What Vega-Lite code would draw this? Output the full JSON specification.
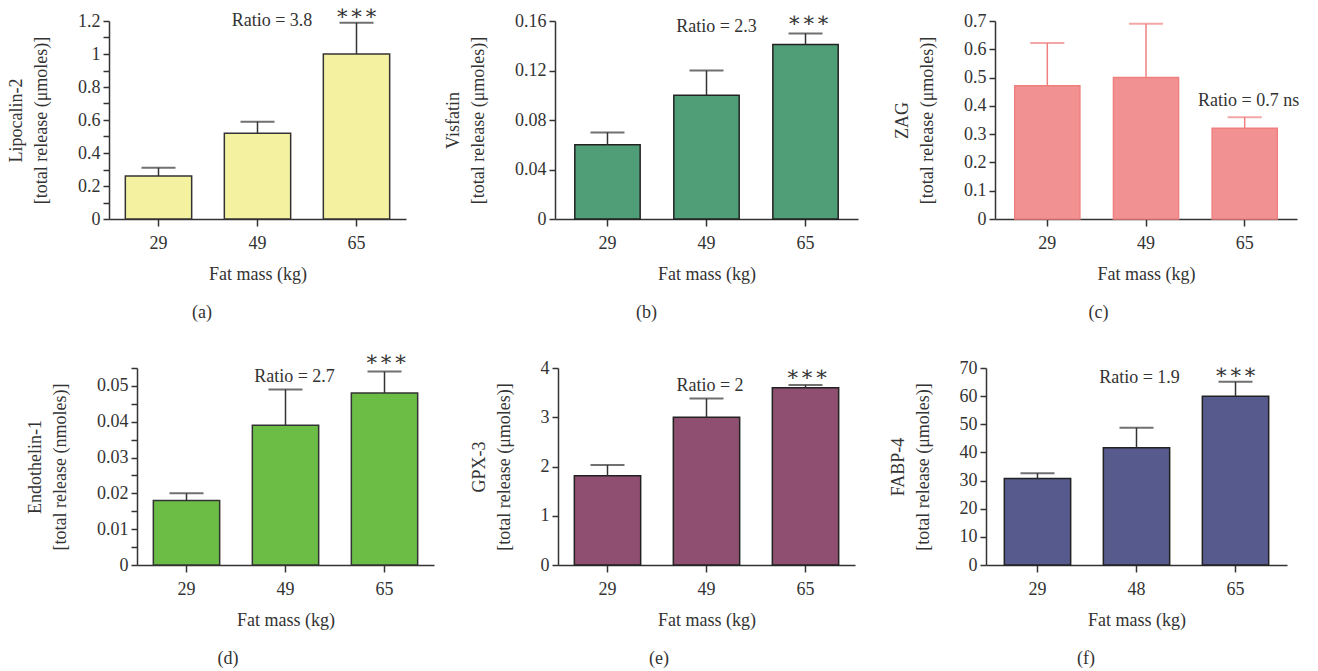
{
  "$schema": "https://vega.github.io/schema/vega-lite/v6.json",
  "background": "white",
  "padding": {"left": 7, "top": 2, "right": 5, "bottom": 5},
  "datasets": {
    "bars": [
      {"panel": "a", "kg": "29", "value": 0.26, "upper": 0.31},
      {"panel": "a", "kg": "49", "value": 0.52, "upper": 0.59},
      {"panel": "a", "kg": "65", "value": 1.0, "upper": 1.19},
      {"panel": "b", "kg": "29", "value": 0.06, "upper": 0.07},
      {"panel": "b", "kg": "49", "value": 0.10, "upper": 0.12},
      {"panel": "b", "kg": "65", "value": 0.141, "upper": 0.15},
      {"panel": "c", "kg": "29", "value": 0.471, "upper": 0.622},
      {"panel": "c", "kg": "49", "value": 0.50, "upper": 0.69},
      {"panel": "c", "kg": "65", "value": 0.321, "upper": 0.36},
      {"panel": "d", "kg": "29", "value": 0.018, "upper": 0.020},
      {"panel": "d", "kg": "49", "value": 0.039, "upper": 0.049},
      {"panel": "d", "kg": "65", "value": 0.048, "upper": 0.054},
      {"panel": "e", "kg": "29", "value": 1.81, "upper": 2.03},
      {"panel": "e", "kg": "49", "value": 3.0, "upper": 3.38},
      {"panel": "e", "kg": "65", "value": 3.60, "upper": 3.655},
      {"panel": "f", "kg": "29", "value": 30.7, "upper": 32.6},
      {"panel": "f", "kg": "48", "value": 41.7, "upper": 48.8},
      {"panel": "f", "kg": "65", "value": 60.0, "upper": 65.1}
    ],
    "notes": [
      {"panel": "a", "kind": "ratio", "kg": "49", "y": 1.201, "label": "Ratio = 3.8"},
      {"panel": "a", "kind": "stars", "kg": "65", "y": 1.245, "label": "∗∗∗"},
      {"panel": "b", "kind": "ratio", "kg": "49", "y": 0.155, "label": "Ratio = 2.3"},
      {"panel": "b", "kind": "stars", "kg": "65", "y": 0.1602, "label": "∗∗∗"},
      {"panel": "c", "kind": "ratio", "kg": "65", "y": 0.4155, "label": "Ratio = 0.7 ns"},
      {"panel": "d", "kind": "ratio", "kg": "49", "y": 0.0526, "label": "Ratio = 2.7"},
      {"panel": "d", "kind": "stars", "kg": "65", "y": 0.0571, "label": "∗∗∗"},
      {"panel": "e", "kind": "ratio", "kg": "49", "y": 3.635, "label": "Ratio = 2"},
      {"panel": "e", "kind": "stars", "kg": "65", "y": 3.85, "label": "∗∗∗"},
      {"panel": "f", "kind": "ratio", "kg": "48", "y": 66.3, "label": "Ratio = 1.9"},
      {"panel": "f", "kind": "stars", "kg": "65", "y": 68.35, "label": "∗∗∗"}
    ]
  },
  "columns": 3,
  "spacing": {"row": 149, "column": 121},
  "bounds": "flush",
  "align": "each",
  "concat": [
    {
      "width": 325, "height": 198,
      "title": {"text": "(a)", "orient": "bottom", "frame": "group", "anchor": "middle", "dx": -69.5, "offset": 21},
      "layer": [
        {"data": {"name": "bars"}, "transform": [{"filter": "datum.panel === 'a'"}],
         "mark": {"type": "bar", "fill": "#f4f2a0", "stroke": "#333333", "strokeWidth": 1.5},
         "encoding": {
           "x": {"field": "kg", "type": "nominal", "scale": {"domain": ["29", "49", "65"], "range": [0, 297], "paddingInner": 0.33, "paddingOuter": 0.165}, "axis": {"title": "Fat mass (kg)"}},
           "y": {"field": "value", "type": "quantitative", "scale": {"domain": [0, 1.2], "nice": false}, "axis": {"title": ["Lipocalin-2", "[total release (μmoles)]"], "values": [0, 0.1, 0.2, 0.3, 0.4, 0.5, 0.6, 0.7, 0.8, 0.9, 1.0, 1.1, 1.2], "tickCount": 50, "labelOverlap": false, "labelExpr": "round(datum.value*10)%2==0 ? format(datum.value,'~g') : ''", "offset": 0}}
         }},
        {"data": {"name": "bars"}, "transform": [{"filter": "datum.panel === 'a'"}],
         "mark": {"type": "rule", "color": "#333333", "strokeWidth": 1.5},
         "encoding": {"x": {"field": "kg", "type": "nominal"}, "y": {"field": "value", "type": "quantitative"}, "y2": {"field": "upper"}}},
        {"data": {"name": "bars"}, "transform": [{"filter": "datum.panel === 'a'"}],
         "mark": {"type": "tick", "orient": "horizontal", "color": "#333333", "thickness": 2, "size": 34},
         "encoding": {"x": {"field": "kg", "type": "nominal"}, "y": {"field": "upper", "type": "quantitative"}}},
        {"data": {"name": "notes"}, "transform": [{"filter": "datum.panel === 'a' && datum.kind === 'ratio'"}],
         "mark": {"type": "text", "dx": 14.5, "align": "center", "baseline": "middle", "font": "Liberation Serif", "fontSize": 18, "color": "#333333"},
         "encoding": {"x": {"field": "kg", "type": "nominal"}, "y": {"field": "y", "type": "quantitative"}, "text": {"field": "label"}}},
        {"data": {"name": "notes"}, "transform": [{"filter": "datum.panel === 'a' && datum.kind === 'stars'"}],
         "mark": {"type": "text", "dx": 0, "align": "center", "baseline": "middle", "font": "DejaVu Serif", "fontSize": 21, "color": "#333333"},
         "encoding": {"x": {"field": "kg", "type": "nominal"}, "y": {"field": "y", "type": "quantitative"}, "text": {"field": "label"}}}
      ]
    },
    {
      "width": 310, "height": 198,
      "title": {"text": "(b)", "orient": "bottom", "frame": "group", "anchor": "middle", "dx": -63.5, "offset": 21},
      "layer": [
        {"data": {"name": "bars"}, "transform": [{"filter": "datum.panel === 'b'"}],
         "mark": {"type": "bar", "fill": "#4f9e78", "stroke": "#222222", "strokeWidth": 1.5},
         "encoding": {
           "x": {"field": "kg", "type": "nominal", "scale": {"domain": ["29", "49", "65"], "range": [0, 303], "paddingInner": 0.34, "paddingOuter": 0.2}, "axis": {"title": "Fat mass (kg)"}},
           "y": {"field": "value", "type": "quantitative", "scale": {"domain": [0, 0.16], "nice": false}, "axis": {"title": ["Visfatin", "[total release (μmoles)]"], "values": [0, 0.04, 0.08, 0.12, 0.16], "tickCount": 50, "labelOverlap": false, "format": "~g", "offset": 0}}
         }},
        {"data": {"name": "bars"}, "transform": [{"filter": "datum.panel === 'b'"}],
         "mark": {"type": "rule", "color": "#333333", "strokeWidth": 1.5},
         "encoding": {"x": {"field": "kg", "type": "nominal"}, "y": {"field": "value", "type": "quantitative"}, "y2": {"field": "upper"}}},
        {"data": {"name": "bars"}, "transform": [{"filter": "datum.panel === 'b'"}],
         "mark": {"type": "tick", "orient": "horizontal", "color": "#333333", "thickness": 2, "size": 34},
         "encoding": {"x": {"field": "kg", "type": "nominal"}, "y": {"field": "upper", "type": "quantitative"}}},
        {"data": {"name": "notes"}, "transform": [{"filter": "datum.panel === 'b' && datum.kind === 'ratio'"}],
         "mark": {"type": "text", "dx": 10, "align": "center", "baseline": "middle", "font": "Liberation Serif", "fontSize": 18, "color": "#333333"},
         "encoding": {"x": {"field": "kg", "type": "nominal"}, "y": {"field": "y", "type": "quantitative"}, "text": {"field": "label"}}},
        {"data": {"name": "notes"}, "transform": [{"filter": "datum.panel === 'b' && datum.kind === 'stars'"}],
         "mark": {"type": "text", "dx": 3, "align": "center", "baseline": "middle", "font": "DejaVu Serif", "fontSize": 21, "color": "#333333"},
         "encoding": {"x": {"field": "kg", "type": "nominal"}, "y": {"field": "y", "type": "quantitative"}, "text": {"field": "label"}}}
      ]
    },
    {
      "width": 311, "height": 198,
      "title": {"text": "(c)", "orient": "bottom", "frame": "group", "anchor": "middle", "dx": -43, "offset": 21},
      "layer": [
        {"data": {"name": "bars"}, "transform": [{"filter": "datum.panel === 'c'"}],
         "mark": {"type": "bar", "fill": "#f29191", "stroke": "#f08080", "strokeWidth": 1.5},
         "encoding": {
           "x": {"field": "kg", "type": "nominal", "scale": {"domain": ["29", "49", "65"], "range": [9, 311], "paddingInner": 0.34, "paddingOuter": 0.2}, "axis": {"title": "Fat mass (kg)"}},
           "y": {"field": "value", "type": "quantitative", "scale": {"domain": [0, 0.7], "nice": false}, "axis": {"title": ["ZAG", "[total release (μmoles)]"], "values": [0, 0.1, 0.2, 0.3, 0.4, 0.5, 0.6, 0.7], "tickCount": 50, "labelOverlap": false, "format": "~g", "offset": -9}}
         }},
        {"data": {"name": "bars"}, "transform": [{"filter": "datum.panel === 'c'"}],
         "mark": {"type": "rule", "color": "#f08080", "strokeWidth": 1.5},
         "encoding": {"x": {"field": "kg", "type": "nominal"}, "y": {"field": "value", "type": "quantitative"}, "y2": {"field": "upper"}}},
        {"data": {"name": "bars"}, "transform": [{"filter": "datum.panel === 'c'"}],
         "mark": {"type": "tick", "orient": "horizontal", "color": "#f08080", "thickness": 2, "size": 34},
         "encoding": {"x": {"field": "kg", "type": "nominal"}, "y": {"field": "upper", "type": "quantitative"}}},
        {"data": {"name": "notes"}, "transform": [{"filter": "datum.panel === 'c' && datum.kind === 'ratio'"}],
         "mark": {"type": "text", "dx": 4, "align": "center", "baseline": "middle", "font": "Liberation Serif", "fontSize": 18, "color": "#333333"},
         "encoding": {"x": {"field": "kg", "type": "nominal"}, "y": {"field": "y", "type": "quantitative"}, "text": {"field": "label"}}}
      ]
    },
    {
      "width": 325, "height": 197,
      "title": {"text": "(d)", "orient": "bottom", "frame": "group", "anchor": "middle", "dx": -43.5, "offset": 21},
      "layer": [
        {"data": {"name": "bars"}, "transform": [{"filter": "datum.panel === 'd'"}],
         "mark": {"type": "bar", "fill": "#6bbd45", "stroke": "#333333", "strokeWidth": 1.5},
         "encoding": {
           "x": {"field": "kg", "type": "nominal", "scale": {"domain": ["29", "49", "65"], "range": [28, 325], "paddingInner": 0.33, "paddingOuter": 0.165}, "axis": {"title": "Fat mass (kg)"}},
           "y": {"field": "value", "type": "quantitative", "scale": {"domain": [0, 0.055], "nice": false}, "axis": {"title": ["Endothelin-1", "[total release (nmoles)]"], "values": [0, 0.005, 0.01, 0.015, 0.02, 0.025, 0.03, 0.035, 0.04, 0.045, 0.05, 0.055], "tickCount": 50, "labelOverlap": false, "labelExpr": "round(datum.value*1000)%10==0 ? format(datum.value,'~g') : ''", "offset": -28}}
         }},
        {"data": {"name": "bars"}, "transform": [{"filter": "datum.panel === 'd'"}],
         "mark": {"type": "rule", "color": "#333333", "strokeWidth": 1.5},
         "encoding": {"x": {"field": "kg", "type": "nominal"}, "y": {"field": "value", "type": "quantitative"}, "y2": {"field": "upper"}}},
        {"data": {"name": "bars"}, "transform": [{"filter": "datum.panel === 'd'"}],
         "mark": {"type": "tick", "orient": "horizontal", "color": "#333333", "thickness": 2, "size": 34},
         "encoding": {"x": {"field": "kg", "type": "nominal"}, "y": {"field": "upper", "type": "quantitative"}}},
        {"data": {"name": "notes"}, "transform": [{"filter": "datum.panel === 'd' && datum.kind === 'ratio'"}],
         "mark": {"type": "text", "dx": 9, "align": "center", "baseline": "middle", "font": "Liberation Serif", "fontSize": 18, "color": "#333333"},
         "encoding": {"x": {"field": "kg", "type": "nominal"}, "y": {"field": "y", "type": "quantitative"}, "text": {"field": "label"}}},
        {"data": {"name": "notes"}, "transform": [{"filter": "datum.panel === 'd' && datum.kind === 'stars'"}],
         "mark": {"type": "text", "dx": 1.5, "align": "center", "baseline": "middle", "font": "DejaVu Serif", "fontSize": 21, "color": "#333333"},
         "encoding": {"x": {"field": "kg", "type": "nominal"}, "y": {"field": "y", "type": "quantitative"}, "text": {"field": "label"}}}
      ]
    },
    {
      "width": 310, "height": 197,
      "title": {"text": "(e)", "orient": "bottom", "frame": "group", "anchor": "middle", "dx": -51, "offset": 21},
      "layer": [
        {"data": {"name": "bars"}, "transform": [{"filter": "datum.panel === 'e'"}],
         "mark": {"type": "bar", "fill": "#8f4f70", "stroke": "#222222", "strokeWidth": 1.5},
         "encoding": {
           "x": {"field": "kg", "type": "nominal", "scale": {"domain": ["29", "49", "65"], "range": [3, 300], "paddingInner": 0.33, "paddingOuter": 0.165}, "axis": {"title": "Fat mass (kg)"}},
           "y": {"field": "value", "type": "quantitative", "scale": {"domain": [0, 4], "nice": false}, "axis": {"title": ["GPX-3", "[total release (μmoles)]"], "values": [0, 1, 2, 3, 4], "tickCount": 50, "labelOverlap": false, "format": "d", "offset": -3}}
         }},
        {"data": {"name": "bars"}, "transform": [{"filter": "datum.panel === 'e'"}],
         "mark": {"type": "rule", "color": "#333333", "strokeWidth": 1.5},
         "encoding": {"x": {"field": "kg", "type": "nominal"}, "y": {"field": "value", "type": "quantitative"}, "y2": {"field": "upper"}}},
        {"data": {"name": "bars"}, "transform": [{"filter": "datum.panel === 'e'"}],
         "mark": {"type": "tick", "orient": "horizontal", "color": "#333333", "thickness": 2, "size": 34},
         "encoding": {"x": {"field": "kg", "type": "nominal"}, "y": {"field": "upper", "type": "quantitative"}}},
        {"data": {"name": "notes"}, "transform": [{"filter": "datum.panel === 'e' && datum.kind === 'ratio'"}],
         "mark": {"type": "text", "dx": 3.5, "align": "center", "baseline": "middle", "font": "Liberation Serif", "fontSize": 18, "color": "#333333"},
         "encoding": {"x": {"field": "kg", "type": "nominal"}, "y": {"field": "y", "type": "quantitative"}, "text": {"field": "label"}}},
        {"data": {"name": "notes"}, "transform": [{"filter": "datum.panel === 'e' && datum.kind === 'stars'"}],
         "mark": {"type": "text", "dx": 1.5, "align": "center", "baseline": "middle", "font": "DejaVu Serif", "fontSize": 21, "color": "#333333"},
         "encoding": {"x": {"field": "kg", "type": "nominal"}, "y": {"field": "y", "type": "quantitative"}, "text": {"field": "label"}}}
      ]
    },
    {
      "width": 311, "height": 197,
      "title": {"text": "(f)", "orient": "bottom", "frame": "group", "anchor": "middle", "dx": -55.5, "offset": 21},
      "layer": [
        {"data": {"name": "bars"}, "transform": [{"filter": "datum.panel === 'f'"}],
         "mark": {"type": "bar", "fill": "#565a8c", "stroke": "#222222", "strokeWidth": 1.5},
         "encoding": {
           "x": {"field": "kg", "type": "nominal", "scale": {"domain": ["29", "48", "65"], "range": [0, 301], "paddingInner": 0.33, "paddingOuter": 0.185}, "axis": {"title": "Fat mass (kg)"}},
           "y": {"field": "value", "type": "quantitative", "scale": {"domain": [0, 70], "nice": false}, "axis": {"title": ["FABP-4", "[total release (μmoles)]"], "values": [0, 10, 20, 30, 40, 50, 60, 70], "tickCount": 50, "labelOverlap": false, "format": "d", "offset": 0}}
         }},
        {"data": {"name": "bars"}, "transform": [{"filter": "datum.panel === 'f'"}],
         "mark": {"type": "rule", "color": "#333333", "strokeWidth": 1.5},
         "encoding": {"x": {"field": "kg", "type": "nominal"}, "y": {"field": "value", "type": "quantitative"}, "y2": {"field": "upper"}}},
        {"data": {"name": "bars"}, "transform": [{"filter": "datum.panel === 'f'"}],
         "mark": {"type": "tick", "orient": "horizontal", "color": "#333333", "thickness": 2, "size": 34},
         "encoding": {"x": {"field": "kg", "type": "nominal"}, "y": {"field": "upper", "type": "quantitative"}}},
        {"data": {"name": "notes"}, "transform": [{"filter": "datum.panel === 'f' && datum.kind === 'ratio'"}],
         "mark": {"type": "text", "dx": 3, "align": "center", "baseline": "middle", "font": "Liberation Serif", "fontSize": 18, "color": "#333333"},
         "encoding": {"x": {"field": "kg", "type": "nominal"}, "y": {"field": "y", "type": "quantitative"}, "text": {"field": "label"}}},
        {"data": {"name": "notes"}, "transform": [{"filter": "datum.panel === 'f' && datum.kind === 'stars'"}],
         "mark": {"type": "text", "dx": 0, "align": "center", "baseline": "middle", "font": "DejaVu Serif", "fontSize": 21, "color": "#333333"},
         "encoding": {"x": {"field": "kg", "type": "nominal"}, "y": {"field": "y", "type": "quantitative"}, "text": {"field": "label"}}}
      ]
    }
  ],
  "config": {
    "view": {"stroke": null},
    "font": "Liberation Serif",
    "axis": {
      "grid": false,
      "domainColor": "#333333", "domainWidth": 1.5,
      "tickColor": "#333333", "tickWidth": 1.5, "tickSize": 6,
      "labelFont": "Liberation Serif", "labelFontSize": 18, "labelColor": "#333333", "labelOverlap": false,
      "titleFont": "Liberation Serif", "titleFontSize": 18, "titleFontWeight": "normal", "titleColor": "#333333"
    },
    "axisX": {"labelAngle": 0, "tickSize": 7, "labelPadding": 8, "titlePadding": 13},
    "axisY": {"labelPadding": 3, "titlePadding": 27, "titleLineHeight": 25},
    "title": {"font": "Liberation Serif", "fontSize": 18, "fontWeight": "normal", "color": "#333333"}
  }
}
